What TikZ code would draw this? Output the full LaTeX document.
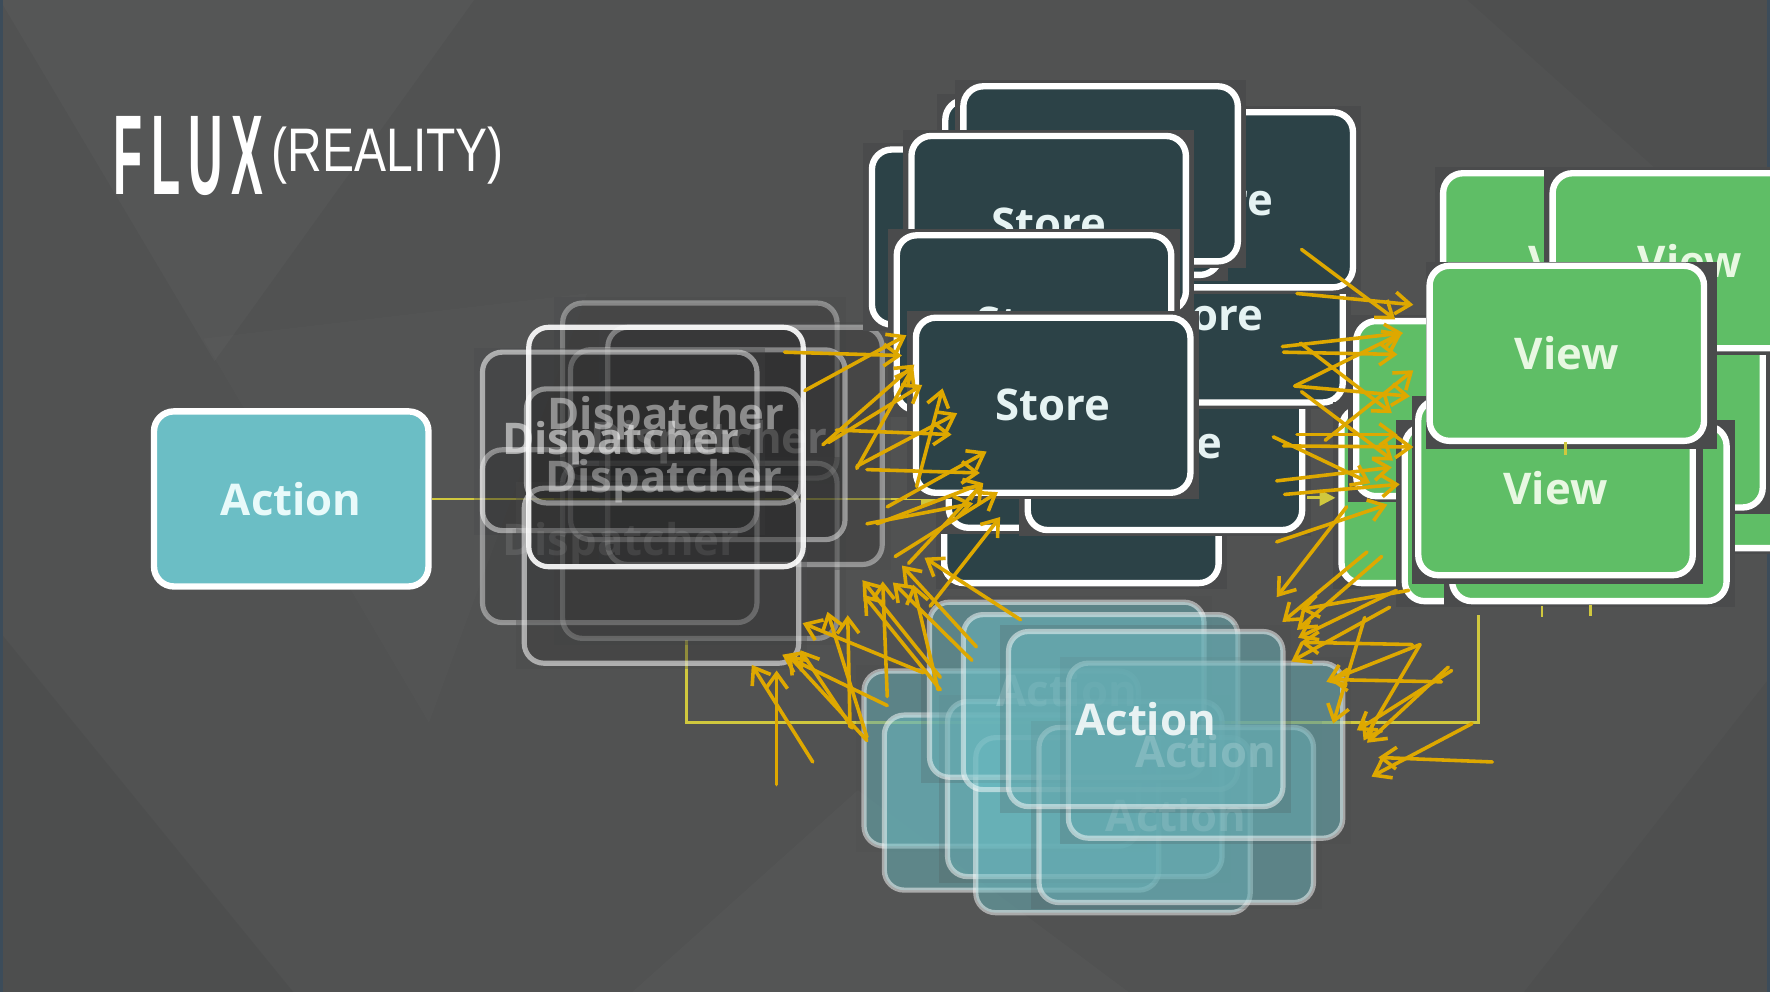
\documentclass[tikz,border=0pt]{standalone}
\usepackage{fontspec}
\setmainfont{Open Sans}
\newfontfamily\headfont{Liberation Sans}
\usepackage{graphicx}
\usepackage{tikz}
\usetikzlibrary{arrows.meta}

\definecolor{bgc}{RGB}{81,82,82}
\definecolor{edgec}{RGB}{60,76,90}
\definecolor{patchc}{RGB}{74,75,76}
\definecolor{actc}{RGB}{107,190,197}
\definecolor{actt}{RGB}{232,250,250}
\definecolor{storec}{RGB}{44,66,71}
\definecolor{storet}{RGB}{230,243,243}
\definecolor{viewc}{RGB}{95,190,102}
\definecolor{viewt}{RGB}{232,248,226}
\definecolor{flowc}{RGB}{208,200,62}
\definecolor{scrawlc}{RGB}{222,168,0}

\begin{document}
\begin{tikzpicture}[
  x=0.01cm, y=-0.01cm,
  font=\fontsize{11}{13}\selectfont\bfseries,
  % Node styles
  box/.style={rectangle, rounded corners=5pt, draw=white, line width=1.6pt, minimum width=2.43cm, minimum height=1.55cm, inner sep=0pt},
  patch/.style={rectangle, fill=patchc, minimum width=2.58cm, minimum height=1.66cm, inner sep=0pt},
  action/.style={box, fill=actc, text=actt},
  store/.style={box, fill=storec, text=storet},
  view/.style={box, fill=viewc, text=viewt},
  ghost/.style={box, draw opacity=#1, line width=1.3pt, fill=black, fill opacity=0.1},
  ghost/.default=0.45,
  dpatch/.style={patch, fill opacity=0.35},
  gtext/.style={text=white, text opacity=#1, inner sep=0pt},
  echo/.style={box, fill=actc, fill opacity=0.47, draw opacity=0.5, line width=1.3pt, text=white, text opacity=#1},
  echo/.default=0,
  apatch/.style={patch, fill opacity=0.2},
  % Connector styles
  flow/.style={draw=flowc, line width=0.7pt},
  flowarr/.style={flow, -{Triangle[length=4pt, width=4pt]}},
  scrawl/.style={draw=scrawlc, line width=0.9pt, line cap=round, -{Straight Barb[length=3.8pt, width=5.5pt]}}
]

  % Frame and background
  \useasboundingbox (0,0) rectangle (1568,879);
  \clip (0,0) rectangle (1568,879);
  \fill[bgc] (0,0) rectangle (1568,879);
  \fill[white, opacity=0.025] (0,0) -- (420,0) -- (190,320) -- cycle;
  \fill[white, opacity=0.015] (180,300) -- (520,260) -- (380,640) -- cycle;
  \fill[black, opacity=0.04] (0,879) -- (0,560) -- (260,879) -- cycle;
  \fill[white, opacity=0.02] (560,879) -- (760,700) -- (1000,879) -- cycle;
  \fill[black, opacity=0.035] (1300,0) -- (1568,0) -- (1568,240) -- cycle;
  \fill[black, opacity=0.035] (1350,879) -- (1568,600) -- (1568,879) -- cycle;
  \fill[edgec] (0,0) rectangle (3,879);
  \fill[edgec] (1565,0) rectangle (1568,879);

  % Title
  \node[anchor=base west, inner sep=0pt, text=white] (flux) at (100,172)
    {\headfont\bfseries\fontsize{28.6}{30}\selectfont\scalebox{0.42}[1]{F\hspace{5pt}L\hspace{5pt}U\hspace{5pt}X}};
  \node[anchor=base west, inner sep=0pt, text=white] (reality) at (240,152)
    {\headfont\mdseries\fontsize{15.5}{17}\selectfont\scalebox{0.78}[1]{(REALITY)}};

  % Action
  \node[action] (act) at (258,442) {Action};

  % Flow lines (behind the stacks)
  \coordinate (sIn) at (830,442);
  \coordinate (vOut) at (1310,545);
  \coordinate (dIn) at (608,567);
  \draw[flowarr] (act.east) -- (sIn);
  \draw[flow] (vOut) -- ++(0,95) -| (dIn);

  % Dispatchers
  \node[dpatch] (pd1) at (620,346) {};
  \node[ghost=0.35] (d1) at (620,346) {};
  \node[dpatch] (pd2) at (620,488) {};
  \node[ghost=0.35] (d2) at (620,488) {};
  \node[dpatch, minimum height=2.2cm] (pd3) at (660,395) {};
  \node[ghost=0.4, minimum height=2.1cm] (d3) at (660,395) {};
  \node[ghost=0.45, minimum height=1.68cm] (d4) at (627,394) {};
  \node[dpatch] (pd5) at (549,391) {};
  \node[ghost=0.55, minimum height=1.58cm] (d5) at (549,391) {};
  \node[ghost=0.4, minimum height=1.53cm] (d6) at (549,475) {};
  \node[dpatch] (pd7) at (586,510) {};
  \node[ghost=0.55] (d7) at (586,510) {};
  \node[gtext=0.22] (dt1) at (628,392) {Dispatcher};
  \node[gtext=0.1] (dt2) at (550,482) {Dispatcher};
  \node[ghost=0.5, minimum height=1.01cm] (d8) at (588,395) {};
  \node[ghost=0.9, minimum height=2.12cm] (d9) at (590,396) {};
  \node[gtext=0.45] (dt3) at (590,370) {Dispatcher};
  \node[gtext=0.55] (dt4) at (550,393) {Dispatcher};
  \node[gtext=0.38] (dt5) at (588,426) {Dispatcher};

  % Stores
  \node[patch] (psi) at (958,439) {};
  \node[store] (si) at (958,439) {};
  \node[patch] (psj) at (962,390) {};
  \node[store] (sj) at (962,390) {};
  \node[patch] (psh) at (1032,392) {};
  \node[store] (sh) at (1032,392) {Store};
  \node[patch] (psg) at (1068,279) {};
  \node[store] (sg) at (1068,279) {Store};
  \node[patch] (psc) at (1077,177) {};
  \node[store] (sc) at (1077,177) {Store};
  \node[patch] (psa) at (959,166) {};
  \node[store] (sa) at (959,166) {};
  \node[patch] (psb) at (975,154) {};
  \node[store] (sb) at (975,154) {};
  \node[patch] (psd) at (894,210) {};
  \node[store] (sd) at (894,210) {};
  \node[patch] (pse) at (929,198) {};
  \node[store] (se) at (929,198) {Store};
  \node[patch] (psf) at (916,286) {};
  \node[store] (sf) at (916,286) {Store};
  \node[patch] (psm) at (933,359) {};
  \node[store] (sm) at (933,359) {Store};

  % Views
  \node[patch] (pvg) at (1560,408) {};
  \node[view] (vg) at (1560,408) {};
  \node[patch] (pve) at (1440,372) {};
  \node[view] (ve) at (1440,372) {};
  \node[patch] (pva) at (1400,231) {};
  \node[view] (va) at (1400,231) {View};
  \node[patch] (pvb) at (1497,231) {};
  \node[view] (vb) at (1497,231) {View};
  \node[patch] (pvd) at (1310,439) {};
  \node[view] (vd) at (1310,439) {};
  \node[patch] (pvc) at (1323,362) {};
  \node[view] (vc) at (1323,362) {};
  \node[patch] (pvh) at (1366,455) {};
  \node[view] (vh) at (1366,455) {};
  \node[patch] (pvf) at (1408,455) {};
  \node[view] (vf) at (1408,455) {};
  \node[patch] (pv2) at (1380,434) {};
  \node[view] (v2) at (1378,432) {View};
  \node[patch] (pvm) at (1392,315) {};
  \node[view] (vm) at (1388,313) {View};

  % Actions (echoes)
  \node[apatch] (pa1) at (887,672) {};
  \node[echo] (a1) at (887,672) {};
  \node[echo] (a2) at (905,711) {};
  \node[apatch] (pa3) at (961,699) {};
  \node[echo] (a3) at (961,699) {};
  \node[echo] (a4) at (986,731) {};
  \node[apatch] (pa5) at (945,611) {};
  \node[echo=0.35] (a5) at (945,611) {Action};
  \node[echo] (a6) at (975,622) {};
  \node[apatch] (pa7) at (1042,722) {};
  \node[echo=0.3] (a7) at (1042,722) {Action};
  \node[apatch] (pa8) at (1068,665) {};
  \node[echo=0.45] (a8) at (1068,665) {Action};
  \node[apatch] (pa9) at (1015,637) {};
  \node[echo=0.85] (a9) at (1015,637) {Action};

  % Store -> View and small links
  \coordinate (sOut) at (1158,441);
  \coordinate (vIn) at (1183,441);
  \draw[flowarr] (sOut) -- (vIn);
  \coordinate (k1) at (1387,392); \coordinate (k2) at (1387,403);
  \coordinate (k3) at (1366,537); \coordinate (k4) at (1366,547);
  \coordinate (k5) at (1409,536); \coordinate (k6) at (1409,546);
  \draw[flow] (k1) -- (k2);
  \draw[flow] (k3) -- (k4);
  \draw[flow] (k5) -- (k6);

  % Scribbled arrows
  \foreach \sx/\sy/\ex/\ey [count=\k] in {
    695/312/799/315, 713/346/803/297, 729/394/810/323, 734/392/817/341,
    741/381/843/385, 759/415/809/325, 759/413/848/366, 768/416/868/419,
    812/431/835/344, 786/449/874/400, 768/464/862/446, 777/464/871/428,
    793/493/884/436, 805/499/871/428, 824/537/886/458,
    904/549/819/494, 720/675/666/589, 688/695/688/594, 768/656/698/580,
    786/625/693/580, 755/645/709/576, 818/596/711/552, 753/644/751/545,
    768/653/733/542, 833/600/764/514, 786/617/782/515, 833/611/765/527,
    861/585/791/516, 865/573/799/501, 831/611/809/518,
    1153/221/1236/283, 1149/260/1252/270, 1136/307/1243/295, 1137/312/1238/314,
    1152/304/1233/366, 1147/342/1242/295, 1147/342/1249/351, 1153/347/1234/408,
    1174/390/1252/328, 1128/387/1214/428, 1137/395/1252/396, 1149/385/1238/385,
    1131/426/1233/414, 1138/438/1240/429, 1131/480/1229/447,
    1193/449/1131/529, 1211/489/1136/551, 1224/493/1149/558, 1248/523/1152/540,
    1237/523/1150/565, 1231/538/1144/586, 1251/571/1152/569, 1209/547/1181/641,
    1258/571/1175/604, 1277/604/1178/602, 1258/571/1208/656, 1286/594/1202/647,
    1283/591/1211/658, 1304/641/1215/688, 1322/675/1221/671}{
    \coordinate (t\k) at (\sx,\sy);
    \coordinate (h\k) at (\ex,\ey);
    \draw[scrawl] (t\k) -- (h\k);
  }

\end{tikzpicture}
\end{document}
